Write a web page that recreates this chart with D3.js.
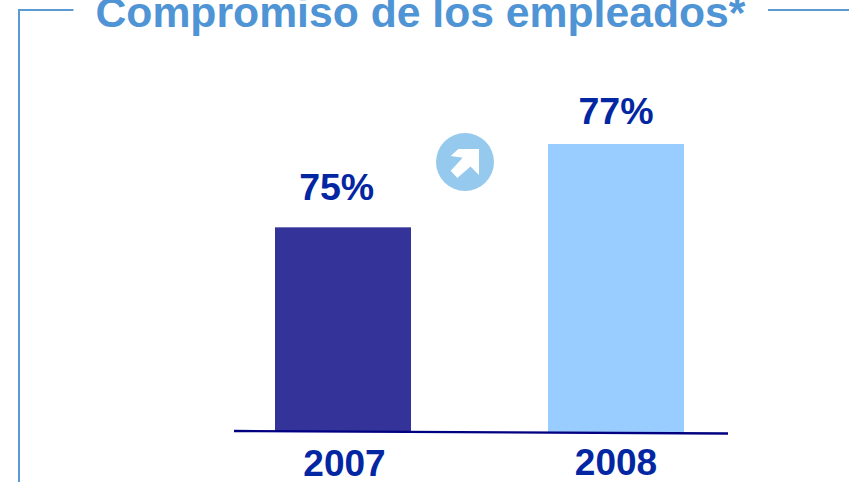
<!DOCTYPE html>
<html><head><meta charset="utf-8">
<script src="https://cdn.jsdelivr.net/npm/d3@7"></script>
<style>html,body{margin:0;padding:0;background:#fff;overflow:hidden}svg{display:block}text{font-family:"Liberation Sans",Arial,sans-serif;font-weight:bold}</style>
</head><body><svg id="c" width="849" height="482"></svg>
<script>
const titleText = "Compromiso de los empleados*";
const categories = ["2007","2008"];
const values = [75,77];
const valueLabels = ["75%","77%"];
const barColors = ["#333399","#99CCFF"];
const labelDx = [-6.3,0], labelDy = [-27,-20], catDx = [1.5,0], catY = [476,474.5];
const textColor = "#0326A3", lineColor = "#000080", titleColor = "#4F94D4", frameColor = "#5B9BD5", badgeColor = "#96C9EE";

const svg = d3.select("#c");
const x = d3.scaleBand().domain(categories).range([206.75,752.25]).paddingInner(0.5018).paddingOuter(0.25);
const y = d3.scaleLinear().domain([70.1,77]).range([431.5,144]);

// frame
svg.append("path").attr("d","M73.5 10H19V482").attr("fill","none").attr("stroke",frameColor).attr("stroke-width",2);
svg.append("line").attr("x1",768).attr("x2",849).attr("y1",10).attr("y2",10).attr("stroke",frameColor).attr("stroke-width",2);
svg.append("text").attr("x",420.5).attr("y",27).attr("text-anchor","middle").attr("font-size",42.7).attr("fill",titleColor).text(titleText);

// bars
svg.selectAll("rect.bar").data(values).join("rect").attr("class","bar")
  .attr("x",(d,i)=>x(categories[i])).attr("width",x.bandwidth())
  .attr("y",d=>y(d)).attr("height",(d,i)=>y.range()[0]-y(d)+(i?1:0))
  .attr("fill",(d,i)=>barColors[i]);

// baseline
svg.append("line").attr("x1",234).attr("y1",431).attr("x2",728).attr("y2",433.5).attr("stroke",lineColor).attr("stroke-width",2.4);

// labels
svg.selectAll("text.val").data(values).join("text").attr("class","val")
  .attr("x",(d,i)=>x(categories[i])+x.bandwidth()/2+labelDx[i]).attr("y",(d,i)=>y(d)+labelDy[i])
  .attr("text-anchor","middle").attr("font-size",37.5).attr("fill",textColor)
  .text((d,i)=>valueLabels[i]);
svg.selectAll("text.cat").data(categories).join("text").attr("class","cat")
  .attr("x",(d,i)=>x(d)+x.bandwidth()/2+catDx[i]).attr("y",(d,i)=>catY[i])
  .attr("text-anchor","middle").attr("font-size",37).attr("fill",textColor)
  .text(d=>d);

// badge
const g = svg.append("g").attr("transform","translate(465,162)");
g.append("circle").attr("r",29).attr("fill",badgeColor);
g.append("path").attr("d","M-6.7 -13L14 -13L14 13L5.5 4.5L-7.7 16L-14.3 8.7L-2.3 -4.3L-14.3 -6Z").attr("fill","#fff");
</script></body></html>
